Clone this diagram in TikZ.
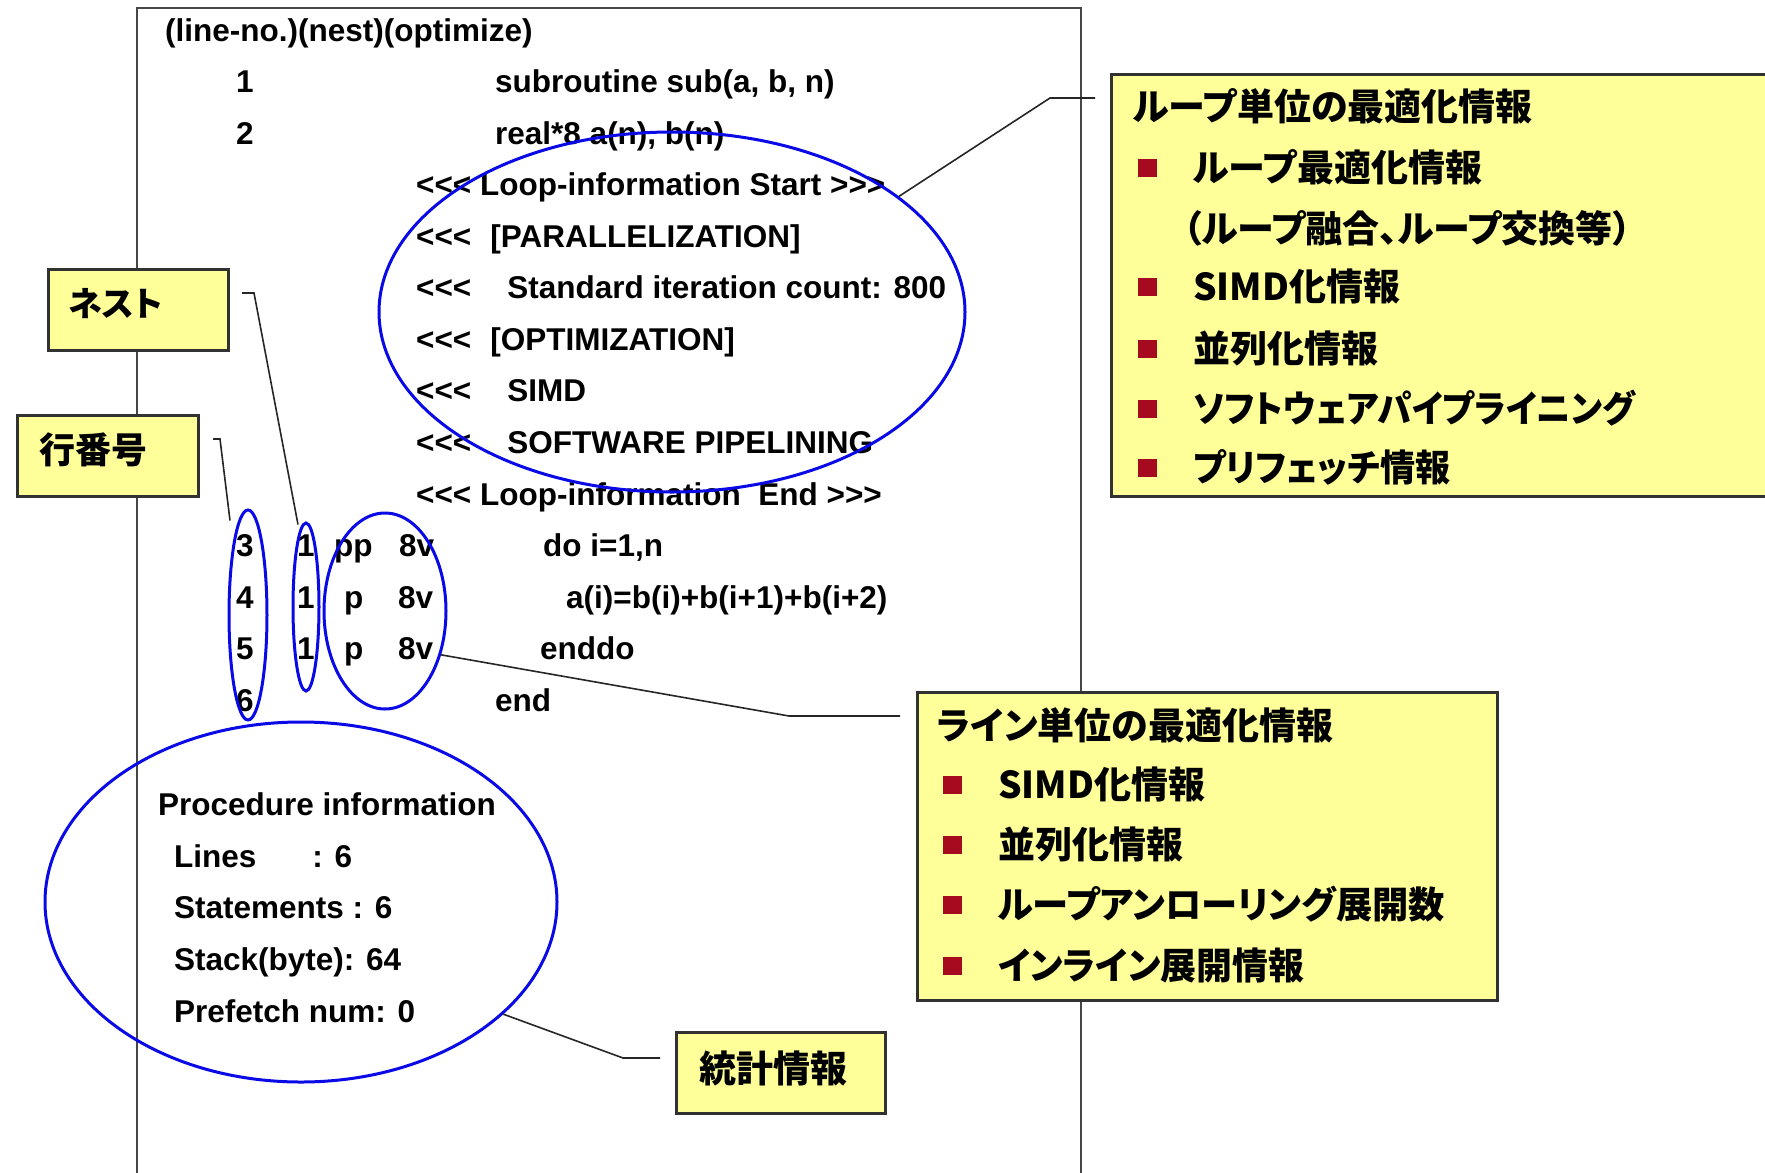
\documentclass[tikz,border=0pt]{standalone}
\usepackage{graphicx}
\usepackage{fontspec}
\setmainfont{Liberation Sans}
\newfontfamily\jp{Noto Sans CJK JP}[RawFeature=+palt]
\usetikzlibrary{shapes.geometric}
\definecolor{ellblue}{RGB}{10,10,230}
\definecolor{boxyellow}{RGB}{255,255,153}
\definecolor{bulletred}{RGB}{165,10,30}
\definecolor{boxborder}{RGB}{50,50,50}
\definecolor{framegray}{RGB}{70,70,70}
\newcommand\myLT{<\kern0pt<\kern0pt<}
\newcommand\myGT{>\kern0pt>\kern0pt>}
\begin{document}
\begin{tikzpicture}[x=1pt,y=-1pt,
  code/.style={anchor=base west, inner sep=0pt, font=\fontsize{31.5}{36}\selectfont\bfseries},
  num/.style={anchor=base, inner sep=0pt, font=\fontsize{31.5}{36}\selectfont\bfseries},
  jptext/.style={anchor=base west, inner sep=0pt, font=\jp\fontsize{37}{40}\selectfont\bfseries},
  jplabel/.style={anchor=base west, inner sep=0pt, font=\jp\fontsize{36}{40}\selectfont\bfseries},
  callbox/.style={draw=boxborder, fill=boxyellow, line width=2.5pt, anchor=north west, inner sep=0pt},
  ell/.style={draw=ellblue, line width=3pt, ellipse, inner sep=0pt},
  callout/.style={draw=black!85, line width=1.6pt},
  bullet/.style={fill=bulletred, minimum width=19pt, minimum height=18pt, inner sep=0pt}]
\useasboundingbox (0,0) rectangle (1765,1173);
% frame
\draw[framegray, line width=1.8pt] (137,1180) -- (137,8) -- (1081,8) -- (1081,1180);

% callout boxes
\node[callbox, minimum width=680pt, minimum height=422pt] (loopbox) at (1110,73) {};
\node[callbox, minimum width=580pt, minimum height=308pt] (linebox) at (916,691) {};
\node[callbox, minimum width=180pt, minimum height=81pt] (nestbox) at (47,268) {};
\node[callbox, minimum width=181pt, minimum height=81pt] (lnbox) at (16,414) {};
\node[callbox, minimum width=209pt, minimum height=81pt] (statbox) at (675,1031) {};

% box labels
\node[jplabel, font=\jp\fontsize{34}{40}\selectfont\bfseries] (nesttxt) at (68,316) {ネスト};
\node[jplabel] (lntxt) at (39,463) {行番号};
\node[jplabel, font=\jp\fontsize{37}{40}\selectfont\bfseries] (stattxt) at (699,1082) {統計情報};

% loop box content
\node[jptext] (lt0) at (1133,120) {ループ単位の最適化情報};
\node[bullet] (lb1) at (1147,168) {};
\node[jptext] (lt1) at (1193,181) {ループ最適化情報};
\node[jptext] (lt1b) at (1183,242) {（ループ融合、ループ交換等）};
\node[bullet] (lb2) at (1147,287) {};
\node[jptext] (lt2) at (1193,300) {SIMD化情報};
\node[bullet] (lb3) at (1147,349) {};
\node[jptext] (lt3) at (1193,362) {並列化情報};
\node[bullet] (lb4) at (1147,409) {};
\node[jptext] (lt4) at (1193,422) {\scalebox{0.93}[1]{ソフトウェアパイプライニング}};
\node[bullet] (lb5) at (1147,468) {};
\node[jptext] (lt5) at (1193,481) {\scalebox{0.95}[1]{プリフェッチ情報}};

% line box content
\node[jptext] (nt0) at (937,739) {ライン単位の最適化情報};
\node[bullet] (nb1) at (952,785) {};
\node[jptext] (nt1) at (998,798) {SIMD化情報};
\node[bullet] (nb2) at (952,845) {};
\node[jptext] (nt2) at (998,858) {並列化情報};
\node[bullet] (nb3) at (952,905) {};
\node[jptext] (nt3) at (998,918) {\scalebox{0.98}[1]{ループアンローリング展開数}};
\node[bullet] (nb4) at (952,966) {};
\node[jptext] (nt4) at (998,979) {\scalebox{0.97}[1]{インライン展開情報}};

% listing
\node[code] (hdr) at (165,41) {(line-no.)(nest)(optimize)};
\node[num] (n1) at (245,92.5) {1};
\node[code] (c1) at (495,92.5) {subroutine sub(a, b, n)};
\node[num] (n2) at (245,144) {2};
\node[code] (c2) at (495,144) {real*8 a(n), b(n)};
\node[code] (c3) at (416,195.6) {\myLT{} Loop-information Start \myGT};
\node[code] (c4) at (416,247) {\myLT\hspace{19pt}[PARALLELIZATION]};
\node[code] (c5) at (416,298.7) {\myLT\hspace{36pt}Standard iteration count: 800};
\node[code] (c6) at (416,350) {\myLT\hspace{19pt}[OPTIMIZATION]};
\node[code] (c7) at (416,401.8) {\myLT\hspace{36pt}SIMD};
\node[code] (c8) at (416,453) {\myLT\hspace{36pt}SOFTWARE PIPELINING};
\node[code] (c9) at (416,505) {\myLT{} Loop-information\ \ End \myGT};
\node[num] (n3) at (245,556) {3};
\node[num] (e3) at (306,556) {1};
\node[code] (o3) at (334,556) {pp};
\node[code] (v3) at (399,556) {8v};
\node[code] (c10) at (543,556) {do i=1,n};
\node[num] (n4) at (245,608) {4};
\node[num] (e4) at (306,608) {1};
\node[code] (o4) at (344,608) {p};
\node[code] (v4) at (398,608) {8v};
\node[code] (c11) at (566,608) {a(i)=b(i)+b(i+1)+b(i+2)};
\node[num] (n5) at (245,659.5) {5};
\node[num] (e5) at (306,659.5) {1};
\node[code] (o5) at (344,659.5) {p};
\node[code] (v5) at (398,659.5) {8v};
\node[code] (c12) at (540,659.5) {enddo};
\node[num] (n6) at (245,711) {6};
\node[code] (c13) at (495,711) {end};

% procedure info
\node[code] (p0) at (158,815) {Procedure information};
\node[code] (p1) at (174,867) {Lines\hspace{56pt}: 6};
\node[code] (p2) at (174,918) {Statements : 6};
\node[code] (p3) at (174,970) {Stack(byte): 64};
\node[code] (p4) at (174,1022) {Prefetch num: 0};

% ellipses
\node[ell, minimum width=586pt, minimum height=360pt] (loopell) at (672,312) {};
\node[ell, minimum width=38pt, minimum height=210pt] (lnell) at (248,615) {};
\node[ell, minimum width=26pt, minimum height=168pt] (nestell) at (306,607) {};
\node[ell, minimum width=122pt, minimum height=196pt] (optell) at (385,611) {};
\node[ell, minimum width=512pt, minimum height=360pt] (procell) at (301,902) {};

% connectors
\coordinate (lk1) at (1050,98);
\coordinate (lk2) at (1095,98);
\draw[callout] (loopell.27) -- (lk1) -- (lk2);
\coordinate (nk1) at (789,716);
\coordinate (nk2) at (900,716);
\draw[callout] (optell.-38) -- (nk1) -- (nk2);
\coordinate (sk1) at (623,1058);
\coordinate (sk2) at (660,1058);
\draw[callout] (procell.-29) -- (sk1) -- (sk2);
\coordinate (ek0) at (242,293);
\coordinate (ek1) at (254,293);
\draw[callout] (ek0) -- (ek1) -- ([xshift=-8pt,yshift=-3pt]nestell.north);
\coordinate (rk0) at (213,439);
\coordinate (rk1) at (220,439);
\draw[callout] (rk0) -- (rk1) -- ([xshift=-18pt,yshift=-12pt]lnell.north);
\end{tikzpicture}
\end{document}
